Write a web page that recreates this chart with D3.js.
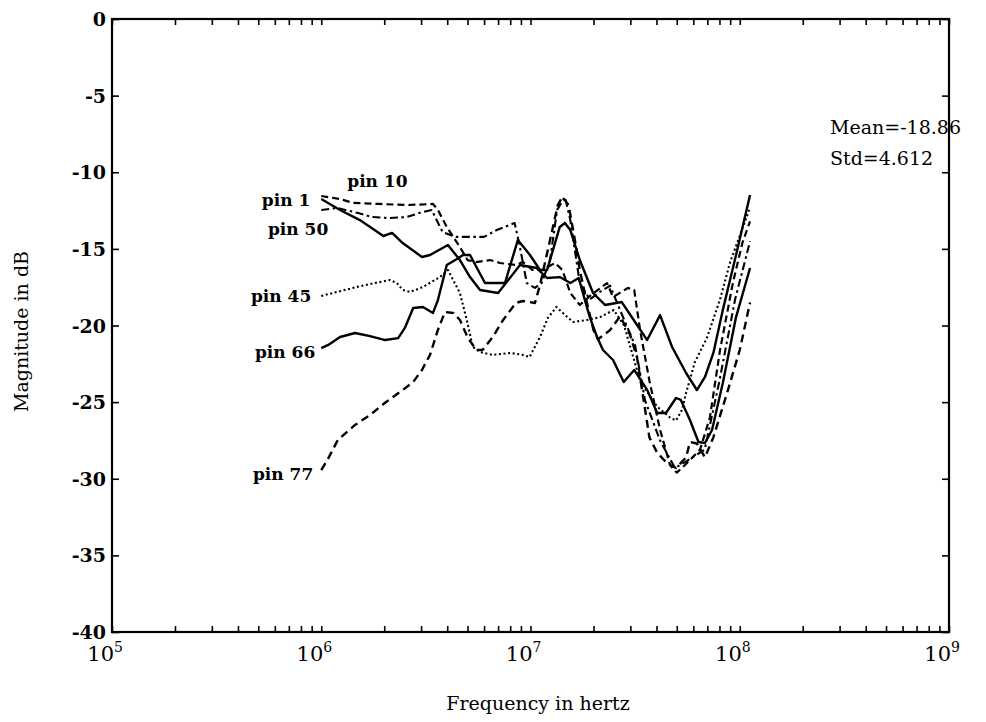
<!DOCTYPE html>
<html>
<head>
<meta charset="utf-8">
<script src="https://cdn.jsdelivr.net/npm/d3@7"></script>
<style>
  body { margin: 0; background: #fff; overflow: hidden; }
  svg { display: block; }
  text { font-family: "DejaVu Serif", serif; fill: #000; }
</style>
</head>
<body>
<div id="chart-area"></div>
<script>
// Magnitude (dB) vs frequency, six pins. Frequencies in MHz.
var pin1 = [[1.0,-11.75],[1.23,-12.46],[1.53,-13.12],[1.98,-14.16],[2.18,-13.96],[2.45,-14.62],[3.03,-15.53],[3.31,-15.40],
  [4.03,-14.75],[4.6,-15.73],[5.14,-16.84],[5.74,-17.68],[7.0,-17.88],[8.91,-16.05],[10.7,-16.25],[12.0,-16.90],[13.8,-16.84],
  [15.5,-17.23],[17.0,-16.90],[18.2,-18.34],[19.2,-19.45],[20.8,-20.75],[22.2,-21.60],[24.8,-22.25],[27.9,-23.69],[31.3,-22.90],
  [36.1,-24.2],[40.3,-25.71],[44.4,-25.71],[49.6,-24.73],[52.3,-24.86],[57.8,-26.17],[63.5,-27.60],[68.2,-27.67],[73.7,-26.82],
  [83,-23.75],[96,-19.45],[112,-16.25]];

var pin10 = [[1.0,-11.55],[1.23,-11.75],[1.42,-12.0],[1.91,-12.07],[2.56,-12.14],[3.42,-12.07],[3.61,-12.46],[3.98,-13.57],
  [4.6,-14.88],[5.0,-15.73],[5.5,-15.86],[6.4,-15.73],[7.15,-15.92],[8.5,-16.05],[9.2,-15.86],[10.2,-16.38],[11.4,-16.38],
  [13.1,-15.92],[14.2,-16.38],[15.5,-17.88],[17.2,-18.66],[19.5,-18.01],[23.2,-17.23],[24.8,-18.14],[29.2,-17.55],[31.3,-17.68],
  [33.4,-20.3],[37,-23.6],[41.6,-26.8],[46.4,-29.1],[50,-29.6],[54.8,-29.1],[64.6,-28.1],[72,-26.0],[80.5,-21.6],[92.8,-17.2],
  [103,-14.6],[112,-13.2]];

var pin45 = [[1.0,-18.07],[1.19,-17.81],[1.47,-17.49],[1.8,-17.23],[2.13,-17.03],[2.3,-17.23],[2.45,-17.68],[2.66,-17.81],
  [3.06,-17.49],[3.69,-16.84],[4.03,-16.38],[4.6,-17.88],[5.0,-19.84],[5.3,-21.4],[5.74,-21.73],[6.6,-21.92],[8.0,-21.79],
  [9.2,-21.92],[9.9,-22.06],[11.1,-20.75],[12.1,-19.51],[13.3,-18.79],[15.0,-19.45],[16.0,-19.77],[18.6,-19.64],[21.5,-19.45],
  [25.0,-18.99],[28,-20.0],[33.4,-23.6],[40.3,-25.3],[46.4,-26.0],[49.6,-26.2],[53,-25.5],[55.4,-24.4],[61,-22.4],[69.7,-20.8],
  [80.5,-18.3],[89.8,-15.9],[112,-12.3]];

var pin50 = [[1.0,-12.46],[1.19,-12.33],[1.5,-12.66],[1.75,-12.92],[2.13,-12.99],[2.56,-12.92],[3.06,-12.59],[3.37,-12.46],
  [3.8,-13.9],[4.4,-14.22],[6.0,-14.22],[6.9,-13.77],[8.4,-13.31],[8.9,-14.88],[9.6,-17.23],[10.5,-17.55],[11.3,-17.23],
  [12.4,-15.73],[13.4,-12.46],[14.6,-11.61],[15.5,-13.12],[17.2,-17.23],[19.2,-18.3],[21.5,-17.8],[24,-17.4],[26.8,-19.0],
  [31.6,-21.3],[35.3,-24.9],[41.6,-27.5],[49,-29.3],[55,-28.9],[61,-28.5],[68,-28.1],[80,-23.6],[95,-18.3],[112,-14.5]];

var pin66 = [[1.0,-21.47],[1.08,-21.27],[1.23,-20.75],[1.45,-20.49],[1.71,-20.69],[2.02,-20.95],[2.33,-20.82],[2.51,-20.16],
  [2.75,-18.86],[3.06,-18.79],[3.42,-19.18],[3.61,-18.34],[3.98,-16.05],[4.45,-15.66],[4.76,-15.40],[5.14,-15.40],[6.06,-17.23],
  [7.55,-17.23],[8.7,-14.42],[9.94,-15.40],[11.1,-16.38],[12.0,-16.38],[13.8,-13.57],[14.6,-13.31],[15.5,-13.77],[17.2,-15.73],
  [19.9,-17.88],[22.7,-18.66],[27.3,-18.47],[31.6,-19.77],[36.1,-20.95],[41.6,-19.32],[47.5,-21.40],[55.4,-23.10],[62.4,-24.21],
  [68.2,-23.36],[74.8,-21.79],[83,-18.99],[96,-15.40],[112,-11.48]];

var pin77 = [[1.0,-29.43],[1.07,-28.78],[1.2,-27.47],[1.45,-26.49],[1.71,-25.84],[2.04,-24.99],[2.45,-24.21],[2.75,-23.69],
  [3.03,-22.9],[3.31,-21.92],[3.61,-20.29],[3.9,-19.12],[4.28,-19.18],[4.6,-19.64],[5.0,-20.75],[5.5,-21.6],[5.9,-21.6],
  [6.6,-20.75],[7.4,-19.64],[8.5,-18.53],[9.2,-18.4],[10.5,-18.53],[11.1,-17.36],[12.4,-14.42],[13.5,-12.14],[14.2,-11.61],
  [15.2,-12.14],[16.3,-14.42],[17.2,-16.38],[18.6,-18.5],[20,-20.3],[21,-20.9],[24,-20.3],[26.8,-19.4],[29.9,-20.6],[32.3,-22.1],
  [35.3,-25.5],[37,-27.3],[40.3,-28.3],[45,-29.0],[49.6,-29.3],[55.4,-28.6],[57.8,-27.6],[62.4,-27.7],[68.2,-28.6],[74.8,-27.3],
  [87,-24.4],[100,-21.6],[112,-18.5]];

var pinNames = ['pin 1','pin 10','pin 45','pin 50','pin 66','pin 77'];
var yTicks = [0,-5,-10,-15,-20,-25,-30,-35,-40];
var decades = [5,6,7,8,9];
var statLines = ['Mean=-18.86','Std=4.612'];

var outerWidth = 986, outerHeight = 722;
var margin = {left:112, right:37, top:19, bottom:90};
var innerWidth = outerWidth - margin.left - margin.right;
var innerHeight = outerHeight - margin.top - margin.bottom;

var svg = d3.select('#chart-area').append('svg')
            .attr('width', outerWidth)
            .attr('height', outerHeight);
var g = svg.append('g')
           .attr('transform','translate(' + margin.left + ',' + margin.top + ')');

var xScale = d3.scaleLog().domain([1e5,1e9]).range([0,innerWidth]);
var yScale = d3.scaleLinear().domain([-40,0]).range([innerHeight,0]);

// every 1..9 x 10^n tick between 1e5 and 1e9
var xTickVals = [];
decades.forEach(function(e){
  for (var m = 1; m <= 9; m++) {
    var v = m * Math.pow(10, e);
    if (v <= 1e9) xTickVals.push(v);
  }
});

function styleAxis(sel){
  sel.select('.domain').remove();
  sel.selectAll('.tick line').attr('stroke','#000').attr('stroke-width',1.6);
  sel.selectAll('.tick text').remove();
}

// tick marks on all four sides, pointing inward
styleAxis(g.append('g')
  .call(d3.axisLeft(yScale).tickValues(yTicks).tickSize(-7)));
styleAxis(g.append('g').attr('transform','translate(' + innerWidth + ',0)')
  .call(d3.axisRight(yScale).tickValues(yTicks).tickSize(-7)));
styleAxis(g.append('g').attr('transform','translate(0,' + innerHeight + ')')
  .call(d3.axisBottom(xScale).tickValues(xTickVals).tickSize(-6)));
styleAxis(g.append('g')
  .call(d3.axisTop(xScale).tickValues(xTickVals).tickSize(-6)));

// frame
g.append('rect')
 .attr('width', innerWidth).attr('height', innerHeight)
 .attr('fill','none').attr('stroke','#000').attr('stroke-width',2.2);

// y tick labels
g.selectAll('.ylab').data(yTicks).enter().append('text')
 .attr('class','ylab')
 .attr('x', -6)
 .attr('y', function(d){ return yScale(d) + 7; })
 .attr('text-anchor','end')
 .attr('font-size','19px')
 .attr('font-weight','bold')
 .text(function(d){ return String(d); });

// decade labels 10^n
decades.forEach(function(e){
  var x = xScale(Math.pow(10,e));
  g.append('text')
   .attr('x', x + 2).attr('y', innerHeight + 29)
   .attr('text-anchor','end')
   .attr('font-size','21px')
   .text('10');
  g.append('text')
   .attr('x', x + 2).attr('y', innerHeight + 20)
   .attr('font-size','14px')
   .text(e);
});

// axis titles
g.append('text')
 .attr('x', 538 - margin.left).attr('y', innerHeight + 78)
 .attr('text-anchor','middle')
 .attr('font-size','19px')
 .text('Frequency in hertz');
g.append('text')
 .attr('transform','translate(' + (-84) + ',' + (innerHeight/2 + 6) + ') rotate(-90)')
 .attr('text-anchor','middle')
 .attr('font-size','19px')
 .text('Magnitude in dB');

// curves
var series = [pin1, pin10, pin45, pin50, pin66, pin77];
var dashes = [null, '7,4', '2,2.6', '8,3.5,2.5,3.5', null, '8,5'];
var widths = [2.4, 2.2, 2.1, 2.1, 2.4, 2.4];

var line = d3.line()
  .x(function(d){ return xScale(d[0] * 1e6); })
  .y(function(d){ return yScale(d[1]); });

series.forEach(function(data, i){
  g.append('path')
   .datum(data)
   .attr('fill','none')
   .attr('stroke','#000')
   .attr('stroke-width', widths[i])
   .attr('stroke-linejoin','round')
   .attr('stroke-dasharray', dashes[i])
   .attr('d', line);
});

// labels next to where each curve starts
var labelOffsets = [
  {dx:-11, dy:7, anchor:'end'},
  {dx:26, dy:-9, anchor:'start'},
  {dx:-10, dy:6, anchor:'end'},
  {dx:7, dy:25, anchor:'end'},
  {dx:-6, dy:10, anchor:'end'},
  {dx:-8, dy:10, anchor:'end'}
];
series.forEach(function(data, i){
  var o = labelOffsets[i];
  g.append('text')
   .attr('x', xScale(data[0][0] * 1e6) + o.dx)
   .attr('y', yScale(data[0][1]) + o.dy)
   .attr('text-anchor', o.anchor)
   .attr('font-size','17px')
   .attr('font-weight','bold')
   .text(pinNames[i]);
});

// statistics
statLines.forEach(function(s, i){
  g.append('text')
   .attr('x', 830 - margin.left).attr('y', 134 - margin.top + i * 31)
   .attr('font-size','19px')
   .text(s);
});
</script>
</body>
</html>
